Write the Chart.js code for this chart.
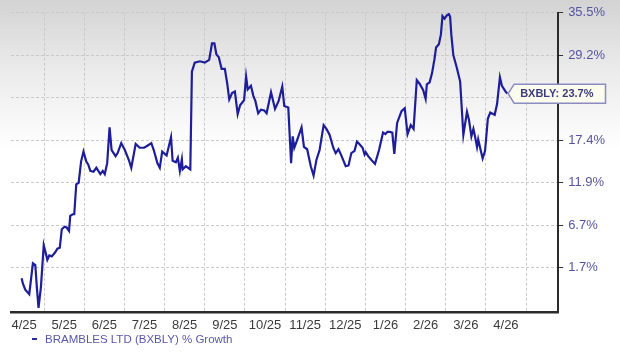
<!DOCTYPE html>
<html>
<head>
<meta charset="utf-8">
<script src="https://cdn.jsdelivr.net/npm/chart.js@4.4.1/dist/chart.umd.min.js"></script>
<style>
  html, body { margin: 0; padding: 0; }
  body { background: linear-gradient(#d3d3d3 0px, #ebebeb 70px, #ffffff 150px); }
  #wrap { position: relative; width: 620px; height: 352px; }
</style>
</head>
<body>
<div id="wrap"><canvas id="chart"></canvas></div>
<script>
// month tick labels, one per month band
const monthLabels = ['4/25', '5/25', '6/25', '7/25', '8/25', '9/25', '10/25', '11/25', '12/25', '1/26', '2/26', '3/26', '4/26'];

// growth % tick values on the right axis (log scale of 1 + growth)
const yTicks = [1.7, 6.7, 11.9, 17.4, 23.2, 29.2, 35.5];

const seriesName = 'BRAMBLES LTD (BXBLY) % Growth';
const tickerName = 'BXBLY';

// time, in months since 4/25
const xMonths = [
  0.44, 0.47, 0.53, 0.63, 0.72, 0.78, 0.82, 0.86, 0.92, 0.99,
  1.05, 1.08, 1.13, 1.19, 1.28, 1.33, 1.39, 1.44, 1.51, 1.56,
  1.62, 1.65, 1.71, 1.75, 1.80, 1.86, 1.92, 1.98, 2.05, 2.10,
  2.15, 2.23, 2.30, 2.35, 2.40, 2.46, 2.51, 2.57, 2.63, 2.68,
  2.78, 2.83, 2.92, 3.01, 3.11, 3.17, 3.28, 3.38, 3.49, 3.58,
  3.67, 3.73, 3.82, 3.88, 3.94, 4.05, 4.16, 4.20, 4.28, 4.33,
  4.38, 4.43, 4.45, 4.53, 4.64, 4.68, 4.75, 4.88, 5.00, 5.11,
  5.18, 5.24, 5.29, 5.35, 5.42, 5.50, 5.56, 5.61, 5.68, 5.75,
  5.82, 5.88, 5.98, 6.03, 6.07, 6.15, 6.21, 6.26, 6.33, 6.40,
  6.48, 6.54, 6.65, 6.75, 6.84, 6.93, 6.98, 7.08, 7.15, 7.19,
  7.23, 7.30, 7.41, 7.47, 7.55, 7.64, 7.71, 7.78, 7.86, 7.96,
  8.03, 8.11, 8.20, 8.26, 8.33, 8.40, 8.51, 8.58, 8.65, 8.73,
  8.79, 8.85, 8.93, 8.98, 9.01, 9.07, 9.15, 9.24, 9.34, 9.44,
  9.50, 9.55, 9.61, 9.67, 9.72, 9.79, 9.90, 9.98, 10.05, 10.13,
  10.20, 10.28, 10.35, 10.44, 10.50, 10.53, 10.60, 10.66, 10.72, 10.76,
  10.83, 10.88, 10.92, 10.97, 11.03, 11.08, 11.11, 11.14, 11.19, 11.28,
  11.36, 11.44, 11.53, 11.58, 11.64, 11.69, 11.73, 11.78, 11.81, 11.87,
  11.92, 11.98, 12.05, 12.11, 12.22, 12.28, 12.35, 12.40, 12.48, 12.53
];

// % growth
const growth = [
  0.5, -0.1, -0.8, -1.3, 2.2, 2.0, -0.6, -2.8, -0.5, 4.3,
  3.2, 2.6, 3.1, 3.0, 3.5, 3.9, 4.0, 6.2, 6.5, 6.4,
  6.0, 7.8, 8.0, 8.0, 11.7, 11.9, 14.6, 15.9, 14.6, 14.2,
  13.4, 13.3, 13.8, 13.4, 13.0, 13.4, 13.0, 14.4, 19.1, 16.1,
  15.3, 15.7, 17.0, 16.1, 14.8, 13.8, 16.9, 16.4, 16.4, 16.7,
  17.0, 16.1, 14.4, 13.8, 15.9, 15.4, 17.8, 14.7, 14.5, 15.1,
  13.4, 14.9, 13.6, 14.0, 13.6, 26.8, 28.1, 28.3, 28.1, 28.5,
  30.9, 30.9, 29.3, 28.9, 27.2, 27.2, 25.1, 22.9, 23.8, 24.0,
  20.9, 22.1, 22.8, 26.1, 24.3, 24.8, 23.4, 22.7, 21.0, 21.5,
  21.4, 21.0, 23.9, 21.6, 22.7, 24.7, 22.0, 21.8, 14.4, 17.9,
  16.4, 17.4, 19.1, 16.5, 16.2, 14.0, 12.8, 14.8, 16.1, 19.4,
  18.9, 18.1, 16.4, 15.7, 16.2, 15.4, 14.0, 14.1, 15.7, 16.0,
  17.2, 16.9, 16.4, 15.5, 15.8, 15.3, 14.8, 14.3, 16.1, 18.4,
  18.2, 18.5, 18.5, 18.4, 15.6, 19.7, 21.3, 21.7, 18.2, 19.4,
  18.9, 25.6, 25.1, 24.2, 23.0, 25.0, 25.3, 26.6, 28.6, 30.3,
  30.8, 32.2, 35.0, 34.6, 35.1, 35.3, 34.9, 32.2, 29.2, 27.3,
  25.4, 18.1, 21.2, 20.1, 17.9, 18.9, 17.9, 16.5, 17.5, 16.1,
  15.0, 16.0, 20.3, 21.1, 20.8, 22.3, 26.0, 24.8, 24.1, 23.7
];

const FONT = "'Liberation Sans', Arial, sans-serif";
Chart.defaults.font.family = FONT;

const points = xMonths.map((m, i) => ({ x: m, y: 100 + growth[i] }));

// callout box with the last value
const endLabel = {
  id: 'endLabel',
  afterDatasetsDraw(chart) {
    const meta = chart.getDatasetMeta(0);
    const pt = meta.data[meta.data.length - 1];
    const ctx = chart.ctx;
    const text = tickerName + ': ' + growth[growth.length - 1].toFixed(1) + '%';
    ctx.save();
    ctx.font = 'bold 11px ' + FONT;
    const w = ctx.measureText(text).width;
    const left = pt.x + 7;
    const right = left + w + 18;
    const top = pt.y - 9.5;
    const bottom = pt.y + 9.5;
    ctx.beginPath();
    ctx.moveTo(pt.x + 1, pt.y);
    ctx.lineTo(left, top);
    ctx.lineTo(right, top);
    ctx.lineTo(right, bottom);
    ctx.lineTo(left, bottom);
    ctx.closePath();
    ctx.fillStyle = '#fbfbee';
    ctx.fill();
    ctx.lineWidth = 1.5;
    ctx.strokeStyle = '#8c8cc0';
    ctx.stroke();
    ctx.fillStyle = '#3c3c7c';
    ctx.textBaseline = 'middle';
    ctx.fillText(text, left + 6, pt.y + 0.5);
    ctx.restore();
  }
};

// legend line under the axis
const bottomLegend = {
  id: 'bottomLegend',
  afterDraw(chart) {
    const ctx = chart.ctx;
    ctx.save();
    ctx.strokeStyle = '#2a2aa0';
    ctx.lineWidth = 2;
    ctx.beginPath();
    ctx.moveTo(32, 339);
    ctx.lineTo(37, 339);
    ctx.stroke();
    ctx.font = '11.5px ' + FONT;
    ctx.fillStyle = '#5858a8';
    ctx.textBaseline = 'middle';
    ctx.fillText(seriesName, 45, 339.5);
    ctx.restore();
  }
};

new Chart(document.getElementById('chart'), {
  type: 'line',
  data: {
    datasets: [{
      label: seriesName,
      data: points,
      borderColor: '#1e1e98',
      borderWidth: 2.2,
      pointRadius: 0,
      tension: 0,
      fill: false
    }]
  },
  options: {
    responsive: true,
    maintainAspectRatio: false,
    animation: false,
    layout: { padding: { top: 0, left: 11, right: 10, bottom: 14 } },
    plugins: {
      legend: { display: false },
      tooltip: { enabled: false }
    },
    scales: {
      x: {
        type: 'linear',
        min: 0.175,
        max: 13.8,
        afterBuildTicks(scale) {
          const t = [];
          for (let i = 0; i <= monthLabels.length; i++) {
            if (i >= scale.min && i <= scale.max) t.push({ value: i });
            if (i < monthLabels.length) t.push({ value: i + 0.5 });
          }
          scale.ticks = t;
        },
        ticks: {
          autoSkip: false,
          maxRotation: 0,
          padding: 5,
          color: '#3a3a3a',
          font: { size: 13 },
          callback(v) {
            return v % 1 === 0.5 ? monthLabels[Math.floor(v)] : '';
          }
        },
        grid: {
          color: (c) => (c.tick && c.tick.value % 1 === 0 ? '#c9c9c9' : 'rgba(0,0,0,0)'),
          lineWidth: 1,
          drawTicks: false
        },
        border: { display: true, color: '#2b2b2b', width: 2.5, dash: [3, 2] }
      },
      y: {
        type: 'logarithmic',
        position: 'right',
        min: 96.7,
        max: 135.5,
        afterBuildTicks(scale) {
          scale.ticks = yTicks.map(v => ({ value: 100 + v }));
        },
        ticks: {
          padding: 5,
          color: '#55559c',
          font: { size: 13 },
          callback(v) {
            return (v - 100).toFixed(1) + '%';
          }
        },
        grid: {
          color: '#c9c9c9',
          lineWidth: 1,
          drawTicks: true,
          tickLength: 5,
          tickColor: '#333333',
          tickWidth: 1,
          tickBorderDash: []
        },
        border: { display: true, color: '#2b2b2b', width: 2, dash: [3, 2] }
      }
    }
  },
  plugins: [endLabel, bottomLegend]
});
</script>
</body>
</html>
